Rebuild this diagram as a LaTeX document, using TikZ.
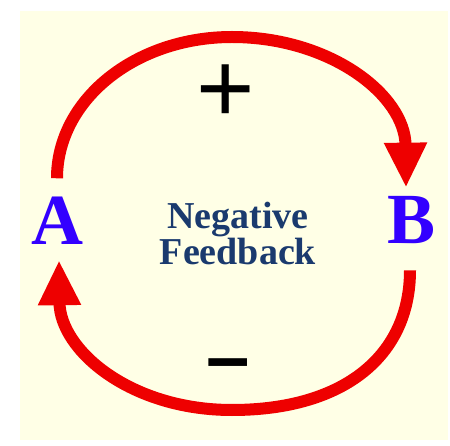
\documentclass[tikz,border=0pt]{standalone}
\usepackage{fontspec}
\setmainfont{Liberation Serif}
\newfontfamily\signfont{Liberation Sans}
\usetikzlibrary{arrows.meta,calc}
\definecolor{cream}{HTML}{FFFFE6}
\definecolor{loopred}{HTML}{EE0000}
\definecolor{varblue}{HTML}{3300FF}
\definecolor{navy}{HTML}{1A3A6E}

\tikzset{
  feedarrow/.style={draw=loopred, line width=12pt, -{Triangle[length=45pt,width=40pt]}},
  var/.style={inner sep=0pt, text=varblue, font=\fontsize{72}{72}\selectfont\bfseries},
  sign/.style={inner sep=0pt, text=black}
}

\begin{document}
\begin{tikzpicture}[x=1pt,y=-1pt]
\useasboundingbox (0,0) rectangle (450,446);
\fill[cream] (20,11) rectangle (448,440);

% variables and loop label
\node[var, anchor=base] (A) at (57,245) {A};
\node[var, anchor=base] (B) at (412,244) {B};
\node[text=navy, align=center, inner sep=0pt, font=\fontsize{38}{36}\selectfont\bfseries] (label) at (238,234) {Negative\\Feedback};

% link signs
\node[sign, font=\signfont\fontsize{100}{100}\selectfont] (plus) at (226,94) {+};
\node[sign, font=\signfont\fontsize{78}{78}\selectfont\bfseries] (minus) at (228,371) {–};

% causal links
\draw[feedarrow] ([yshift=19pt]A.north) .. controls (57,100) and (135,37) .. (232,37)
  .. controls (330,37) and (405,95) .. ([xshift=-6pt,yshift=9pt]B.north);
\draw[feedarrow] ([xshift=-2pt,yshift=-26pt]B.south) .. controls (410,355) and (345,410) .. (232,410)
  .. controls (130,410) and (60,350) .. ([xshift=2pt,yshift=-15pt]A.south);
\end{tikzpicture}
\end{document}
